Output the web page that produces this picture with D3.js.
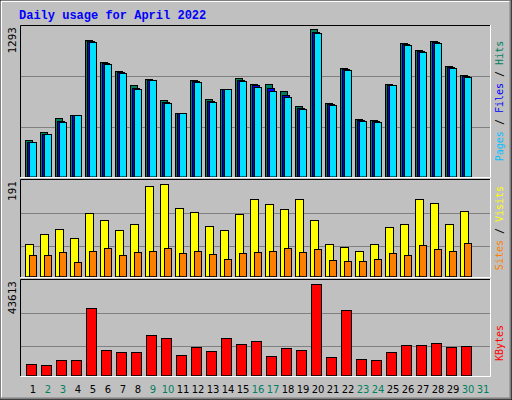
<!DOCTYPE html>
<html><head><meta charset="utf-8">
<script src="https://cdn.jsdelivr.net/npm/d3@7"></script>
<style>body{margin:0;background:#fff}</style>
</head><body>
<script>
// data
var days = d3.range(1, 32);
var weekend = [2, 3, 9, 10, 16, 17, 23, 24, 30, 31];
var hits = [321, 390, 513, 539, 1194, 1002, 923, 801, 853, 670, 556, 845, 679, 766, 862, 810, 810, 749, 618, 1293, 644, 950, 504, 495, 810, 1168, 1107, 1185, 967, 888];
var files = [310, 380, 490, 539, 1184, 992, 913, 780, 850, 655, 556, 835, 665, 766, 848, 800, 780, 720, 605, 1270, 635, 940, 495, 486, 805, 1160, 1098, 1176, 958, 880];
var pages = [303, 373, 478, 539, 1177, 985, 906, 766, 845, 644, 556, 827, 653, 766, 836, 789, 749, 696, 591, 1255, 626, 932, 487, 478, 801, 1151, 1089, 1168, 950, 871];
var visits = [67, 88, 98, 79, 131, 117, 96, 108, 187, 191, 141, 133, 104, 96, 129, 160, 150, 139, 160, 117, 67, 61, 54, 67, 102, 108, 160, 152, 108, 135];
var sites = [44, 44, 52, 30, 54, 59, 44, 52, 54, 59, 50, 54, 46, 36, 48, 52, 54, 59, 52, 57, 34, 32, 32, 36, 50, 44, 65, 57, 54, 69];
var kbytes = [5413, 4935, 7323, 7323, 32158, 12099, 11144, 11144, 19263, 17830, 9711, 13532, 11622, 17830, 14965, 16398, 9234, 13054, 12099, 43613, 8756, 31203, 7801, 7323, 11144, 14487, 14487, 15442, 13532, 14009];

var svg = d3.select("body").append("svg").attr("width", 512).attr("height", 400);

// background with bevel
svg.append("rect").attr("width", 512).attr("height", 400).attr("fill", "#c0c0c0");
svg.append("path").attr("d", "M1,399V1H511").attr("stroke", "#fff").attr("stroke-width", 2).attr("fill", "none");
svg.append("path").attr("d", "M1,399H511V1").attr("stroke", "#808080").attr("stroke-width", 3).attr("fill", "none");
svg.append("path").attr("d", "M0,0H512V400H0Z").attr("stroke", "#000").attr("fill", "none");

svg.append("text").attr("x", 19).attr("y", 19)
    .attr("font-family", "Liberation Mono").attr("font-weight", "bold").attr("font-size", 12)
    .attr("fill", "#0000ff").text("Daily usage for April 2022");

var x = d3.scaleLinear().domain([1, 31]).range([25, 475]);

function panel(top, bottom, max, label) {
    svg.append("rect").attr("x", 20.5).attr("y", top + 0.5).attr("width", 470).attr("height", bottom - top)
        .attr("fill", "#c0c0c0").attr("stroke", "none");
    var y = d3.scaleLinear().domain([0, max]);
    svg.append("text").attr("transform", "translate(16," + (top + 2) + ") rotate(-90)")
        .attr("text-anchor", "end").attr("font-family", "DejaVu Sans Mono").attr("font-size", 11)
        .text(label);
    return y;
}

function frame(top, bottom) {
    svg.append("path").attr("d", "M20.5," + bottom + "V" + (top + 0.5) + "H490.5").attr("stroke", "#000").attr("fill", "none");
    svg.append("path").attr("d", "M20.5," + (bottom + 0.5) + "H490.5V" + top).attr("stroke", "#fff").attr("fill", "none");
}

function grid(y, vals) {
    svg.selectAll(null).data(vals).enter().append("line")
        .attr("x1", 21).attr("x2", 490)
        .attr("y1", function (d) { return Math.round(y(d)) + 0.5; })
        .attr("y2", function (d) { return Math.round(y(d)) + 0.5; })
        .attr("stroke", "#808080");
}

function bars(y, vals, dx, w, fill) {
    svg.selectAll(null).data(vals).enter().append("rect")
        .attr("x", function (d, i) { return x(i + 1) + dx + 0.5; })
        .attr("y", function (d) { return Math.round(y(d)) + 0.5; })
        .attr("width", w)
        .attr("height", function (d) { return y(0) - Math.round(y(d)) - 0.5; })
        .attr("fill", fill).attr("stroke", "#000");
}

function sideLabel(cy, parts) {
    var t = svg.append("text").attr("transform", "translate(503," + cy + ") rotate(-90)")
        .attr("text-anchor", "middle").attr("font-family", "DejaVu Sans Mono").attr("font-size", 10);
    parts.forEach(function (p) { t.append("tspan").attr("fill", p[1]).text(p[0]); });
}

// top panel: hits / files / pages
var y1 = panel(25, 177, 1293, "1293").range([177, 29]);
grid(y1, [1293 * 101 / 148, 1293 * 50 / 148]);
bars(y1, hits, 0, 7, "#008060");
bars(y1, files, 2, 7, "#0000ff");
bars(y1, pages, 4, 7, "#00e0ff");
frame(25, 177);
sideLabel(101, [["Pages", "#00c0ff"], [" / ", "#000"], ["Files", "#0000ff"], [" / ", "#000"], ["Hits", "#008060"]]);

// middle panel: visits / sites
var y2 = panel(179, 277, 191, "191").range([276.7, 184.3]);
grid(y2, [191 * 63.4 / 92.4, 191 * 30.4 / 92.4]);
bars(y2, visits, 0, 8, "#ffff00");
bars(y2, sites, 4, 7, "#ff8000");
frame(179, 277);
sideLabel(228, [["Sites", "#ff8000"], [" / ", "#000"], ["Visits", "#ffff00"]]);

// bottom panel: kbytes
var y3 = panel(279, 376, 43613, "43613").range([375.7, 284.3]);
grid(y3, [43613 * 62.4 / 91.4, 43613 * 30 / 91.4]);
bars(y3, kbytes, 1, 10, "#ff0000");
frame(279, 376);
sideLabel(343, [["KBytes", "#ff0000"]]);

// day labels
svg.selectAll(null).data(days).enter().append("text")
    .attr("x", function (d) { return x(d) + 8; })
    .attr("y", 393)
    .attr("text-anchor", "middle")
    .attr("font-family", "DejaVu Sans").attr("font-size", 10)
    .attr("fill", function (d) { return weekend.indexOf(d) >= 0 ? "#008060" : "#000"; })
    .text(function (d) { return d; });
</script>
</body></html>
